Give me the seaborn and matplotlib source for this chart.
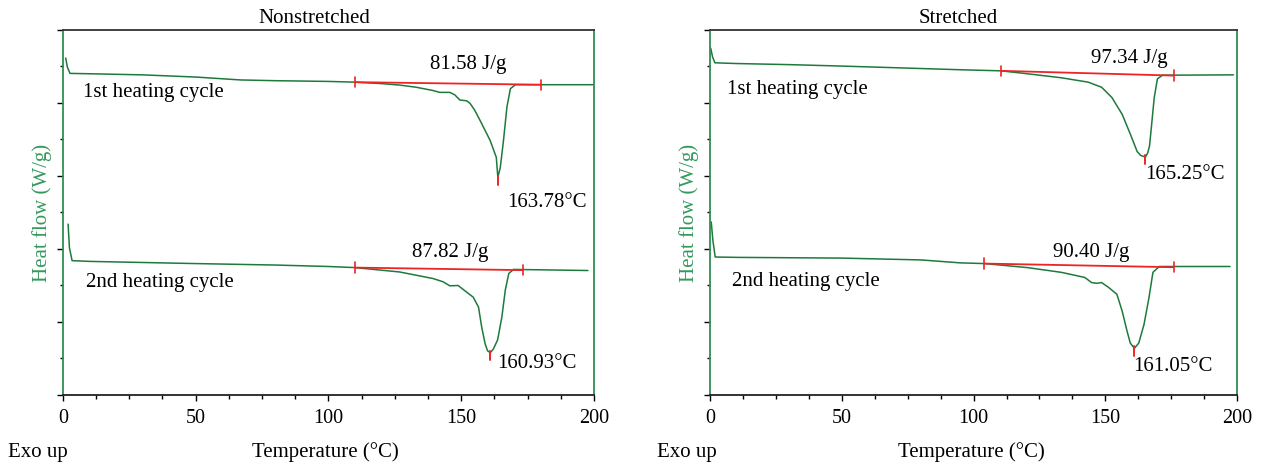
import matplotlib
matplotlib.use('Agg')
import matplotlib.pyplot as plt
import seaborn as sns
from matplotlib.ticker import MultipleLocator, NullFormatter

# DSC thermograms
# y in arbitrary heat-flow units (0 = bottom of axis, 10 = top)

# Nonstretched, 1st heating
ns1_temp = [1.1, 1.7, 2.7, 10, 30, 50, 67, 80, 100, 110, 120, 126.8, 133.1, 139.4, 141.9,
            145.7, 147.6, 149.5, 152, 153.3, 155, 157.1, 160.9, 163.2, 163.78, 164.7, 165.9,
            167.2, 168.5, 170.4, 200]
ns1_flow = [9.23, 8.99, 8.81, 8.80, 8.77, 8.71, 8.63, 8.61, 8.59, 8.57, 8.53, 8.49, 8.43, 8.34, 8.29,
            8.29, 8.22, 8.08, 8.06, 7.99, 7.81, 7.52, 6.97, 6.51, 5.96, 6.23, 6.97,
            7.89, 8.39, 8.50, 8.50]

# Nonstretched, 2nd heating
ns2_temp = [2.0, 2.5, 3.5, 10, 50, 80, 100, 110, 126.8, 139.4, 143.2, 145.7, 148.8, 152,
            154.5, 156.5, 157.7, 159, 159.9, 160.93, 162.1, 163.7, 165.3, 166.6, 167.9, 169.7, 197.7]
ns2_flow = [4.68, 4.03, 3.68, 3.66, 3.60, 3.56, 3.52, 3.49, 3.37, 3.19, 3.10, 2.99, 3.00, 2.82,
            2.68, 2.41, 1.86, 1.40, 1.21, 1.16, 1.26, 1.51, 2.14, 2.88, 3.33, 3.44, 3.41]

# Stretched, 1st heating
st1_temp = [0.1, 0.8, 1.7, 10, 30, 50, 68.2, 94.8, 110.4, 120.4, 133.3, 143.5, 148.6, 152.5,
            156.4, 159.6, 162.1, 163.5, 165.25, 166.1, 166.8, 167.6, 168.6, 169.8, 171.7, 198.7]
st1_flow = [9.50, 9.26, 9.10, 9.08, 9.05, 9.01, 8.97, 8.91, 8.88, 8.80, 8.69, 8.57, 8.43, 8.15,
            7.69, 7.13, 6.67, 6.56, 6.52, 6.63, 6.82, 7.41, 8.15, 8.66, 8.76, 8.77]

# Stretched, 2nd heating
st2_temp = [0.3, 0.9, 1.8, 10, 50, 80, 94.8, 104.1, 120.4, 133.3, 142.2, 144.8, 146.7, 148.6,
            151.2, 154.4, 156.4, 158.3, 159.5, 161.05, 162.7, 164.7, 166.6, 168.1, 170.5, 197.4]
st2_flow = [4.74, 4.25, 3.78, 3.77, 3.75, 3.70, 3.62, 3.60, 3.49, 3.36, 3.22, 3.08, 3.06, 3.08,
            2.95, 2.76, 2.30, 1.74, 1.42, 1.28, 1.42, 1.93, 2.67, 3.36, 3.52, 3.52]

# integration baselines (start/end temperature and flow)
ns1_base_t, ns1_base_y = [110, 180.1], [8.57, 8.50]
ns2_base_t, ns2_base_y = [110, 173.4], [3.49, 3.42]
st1_base_t, st1_base_y = [110.4, 176.0], [8.88, 8.75]
st2_base_t, st2_base_y = [104.1, 176.0], [3.60, 3.50]

# peak temperatures and melting enthalpies
ns_peaks = [163.78, 160.93]
ns_peak_flow = [5.96, 1.16]
st_peaks = [165.25, 161.05]
st_peak_flow = [6.52, 1.28]
ns_enthalpy = ['81.58 J/g', '87.82 J/g']
st_enthalpy = ['97.34 J/g', '90.40 J/g']
cycle_labels = ['1st heating cycle', '2nd heating cycle']

CURVE = '#1d7a3c'
SPINE = '#2f8f50'
LABEL_GREEN = '#35995c'
RED = '#ee2424'
FS = 15

sns.set_theme(style='ticks')
plt.rcParams['font.family'] = ['Liberation Serif', 'DejaVu Serif']
plt.rcParams['font.size'] = FS
plt.rcParams['text.color'] = 'black'
plt.rcParams['axes.labelcolor'] = 'black'
plt.rcParams['xtick.color'] = 'black'
plt.rcParams['ytick.color'] = 'black'

fig = plt.figure(figsize=(12.61, 4.68), dpi=100)
ax_ns = fig.add_axes([0.0498, 0.156, 0.4213, 0.780])
ax_st = fig.add_axes([0.5634, 0.156, 0.4175, 0.780])


def style_axes(ax, title, title_x):
    ax.set_xlim(0, 200)
    ax.set_ylim(0, 10)
    ax.set_facecolor('white')
    ax.xaxis.set_major_locator(MultipleLocator(50))
    ax.xaxis.set_minor_locator(MultipleLocator(12.5))
    ax.yaxis.set_major_locator(MultipleLocator(2))
    ax.yaxis.set_minor_locator(MultipleLocator(1))
    ax.yaxis.set_major_formatter(NullFormatter())
    ax.tick_params(axis='x', which='major', direction='out', length=4, width=1,
                   color='black', labelsize=14.5, pad=6)
    ax.tick_params(axis='x', which='minor', direction='out', length=3, width=1, color='black')
    ax.tick_params(axis='y', which='major', direction='out', length=4, width=1, color='black')
    ax.tick_params(axis='y', which='minor', direction='out', length=2, width=1, color='black')
    for side in ['left', 'right']:
        ax.spines[side].set_color(SPINE)
        ax.spines[side].set_linewidth(1.3)
    ax.spines['top'].set_color('#333333')
    ax.spines['bottom'].set_color('#222222')
    ax.spines['top'].set_linewidth(1.3)
    ax.spines['bottom'].set_linewidth(1.3)
    ax.set_title(title, fontsize=FS, x=title_x, pad=5)
    ax.set_xlabel('Temperature (°C)', fontsize=FS)
    ax.xaxis.set_label_coords(0.495, -0.155)
    ax.xaxis.label.set_va('center')
    ax.set_ylabel('Heat flow (W/g)', fontsize=FS, color=LABEL_GREEN)
    ax.yaxis.set_label_coords(-0.04, 0.5)
    ax.yaxis.label.set_va('center')


def draw_curve(ax, temp, flow, base_t, base_y, peak_t, peak_y):
    sns.lineplot(x=temp, y=flow, ax=ax, color=CURVE, linewidth=1.1)
    ax.plot(base_t, base_y, color=RED, linewidth=1.3, solid_capstyle='butt')
    for t, y in zip(base_t, base_y):
        ax.plot([t, t], [y - 0.14, y + 0.14], color=RED, linewidth=1.2)
    ax.plot([peak_t, peak_t], [peak_y - 0.2, peak_y + 0.05], color=RED, linewidth=1.4)


# Nonstretched
style_axes(ax_ns, 'Nonstretched', 0.473)
draw_curve(ax_ns, ns1_temp, ns1_flow, ns1_base_t, ns1_base_y, ns_peaks[0], ns_peak_flow[0])
draw_curve(ax_ns, ns2_temp, ns2_flow, ns2_base_t, ns2_base_y, ns_peaks[1], ns_peak_flow[1])
ax_ns.text(152.6, 9.04, ns_enthalpy[0], ha='center', va='center', fontsize=FS)
ax_ns.text(145.9, 3.90, ns_enthalpy[1], ha='center', va='center', fontsize=FS)
ax_ns.text(182.3, 5.26, f'{ns_peaks[0]:.2f}°C', ha='center', va='center', fontsize=FS)
ax_ns.text(178.4, 0.85, f'{ns_peaks[1]:.2f}°C', ha='center', va='center', fontsize=FS)
ax_ns.text(7.6, 8.29, cycle_labels[0], ha='left', va='center', fontsize=FS)
ax_ns.text(8.7, 3.08, cycle_labels[1], ha='left', va='center', fontsize=FS)

# Stretched
style_axes(ax_st, 'Stretched', 0.470)
draw_curve(ax_st, st1_temp, st1_flow, st1_base_t, st1_base_y, st_peaks[0], st_peak_flow[0])
draw_curve(ax_st, st2_temp, st2_flow, st2_base_t, st2_base_y, st_peaks[1], st_peak_flow[1])
ax_st.text(159.1, 9.22, st_enthalpy[0], ha='center', va='center', fontsize=FS)
ax_st.text(144.5, 3.89, st_enthalpy[1], ha='center', va='center', fontsize=FS)
ax_st.text(180.4, 6.05, f'{st_peaks[0]:.2f}°C', ha='center', va='center', fontsize=FS)
ax_st.text(175.6, 0.78, f'{st_peaks[1]:.2f}°C', ha='center', va='center', fontsize=FS)
ax_st.text(6.2, 8.36, cycle_labels[0], ha='left', va='center', fontsize=FS)
ax_st.text(8.2, 3.12, cycle_labels[1], ha='left', va='center', fontsize=FS)

fig.text(0.006, 0.034, 'Exo up', ha='left', va='center', fontsize=FS)
fig.text(0.521, 0.034, 'Exo up', ha='left', va='center', fontsize=FS)

fig.savefig('out.png', dpi=100)
